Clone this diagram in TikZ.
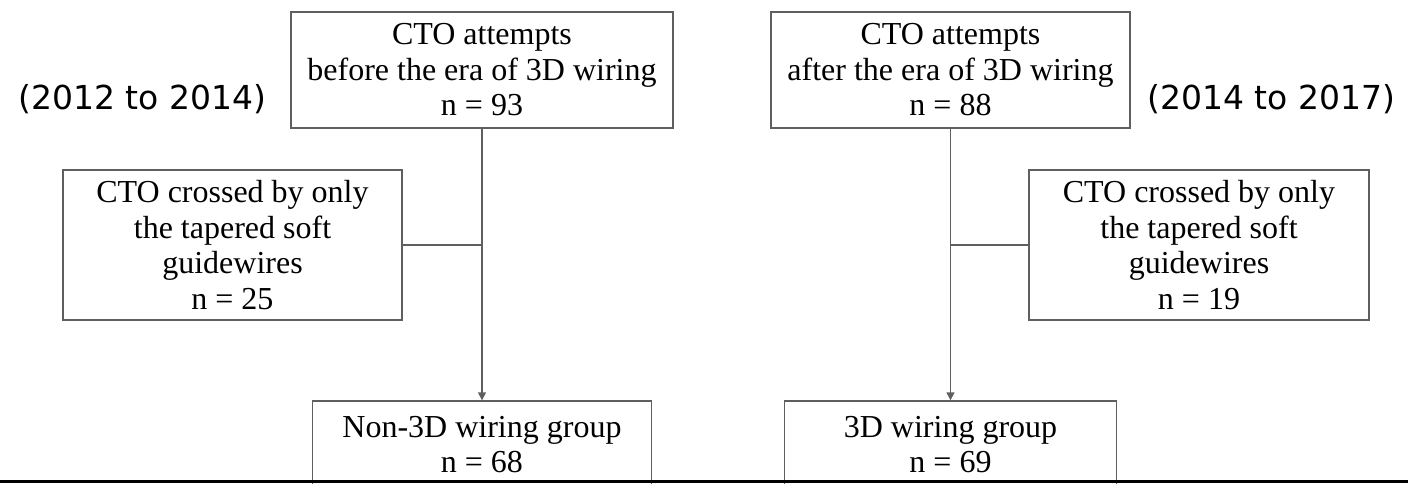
\documentclass[tikz,border=0pt]{standalone}
\usepackage{fontspec}
\setmainfont{Liberation Serif}
\newfontfamily\yearfont{DejaVu Sans}
\usetikzlibrary{arrows.meta}
\definecolor{boxline}{RGB}{95,95,95}
\begin{document}
\begin{tikzpicture}[x=1pt,y=-1pt,
  box/.style={draw=boxline, line width=1.4pt, align=center, inner sep=0pt,
              font=\fontsize{32}{35.5}\selectfont},
  link/.style={draw=boxline, line width=1.4pt},
  years/.style={font=\yearfont\fontsize{33}{38}\selectfont, inner sep=0pt, anchor=base}]
\path[use as bounding box, clip] (0,0) rectangle (1408,483);

% left column: before the era of 3D wiring
\node[box, minimum width=382pt, minimum height=116pt] (preA) at (482,70)
  {CTO attempts\\before the era of 3D wiring\\n = 93};
\node[box, minimum width=339pt, minimum height=150pt] (crossA) at (232.5,245)
  {CTO crossed by only\\the tapered soft\\guidewires\\n = 25};
\node[box, minimum width=339pt, minimum height=87pt] (grpA) at (482,444.5)
  {Non-3D wiring group\\n = 68};
\node[years] (yrA) at (142.5,109.5) {(2012 to 2014)};

% right column: after the era of 3D wiring
\node[box, minimum width=359pt, minimum height=116pt] (preB) at (950.5,70)
  {CTO attempts\\after the era of 3D wiring\\n = 88};
\node[box, minimum width=340pt, minimum height=150pt] (crossB) at (1199,245)
  {CTO crossed by only\\the tapered soft\\guidewires\\n = 19};
\node[box, minimum width=332pt, minimum height=87pt] (grpB) at (950.5,444.5)
  {3D wiring group\\n = 69};
\node[years] (yrB) at (1271.5,109.5) {(2014 to 2017)};

% flow connectors
\coordinate (jA) at (preA.south |- crossA.east);
\coordinate (jB) at (preB.south |- crossB.east);
\draw[link, -{Triangle[length=8pt,width=8pt]}] (preA.south) -- (grpA.north);
\draw[link, -{Triangle[length=8pt,width=8pt]}] (preB.south) -- (grpB.north);
\draw[link] (crossA.east) -- (jA);
\draw[link] (crossB.west) -- (jB);

% rule along the lower edge
\draw[black, line width=2.2pt] (0,481.5) -- (1408,481.5);
\end{tikzpicture}
\end{document}
